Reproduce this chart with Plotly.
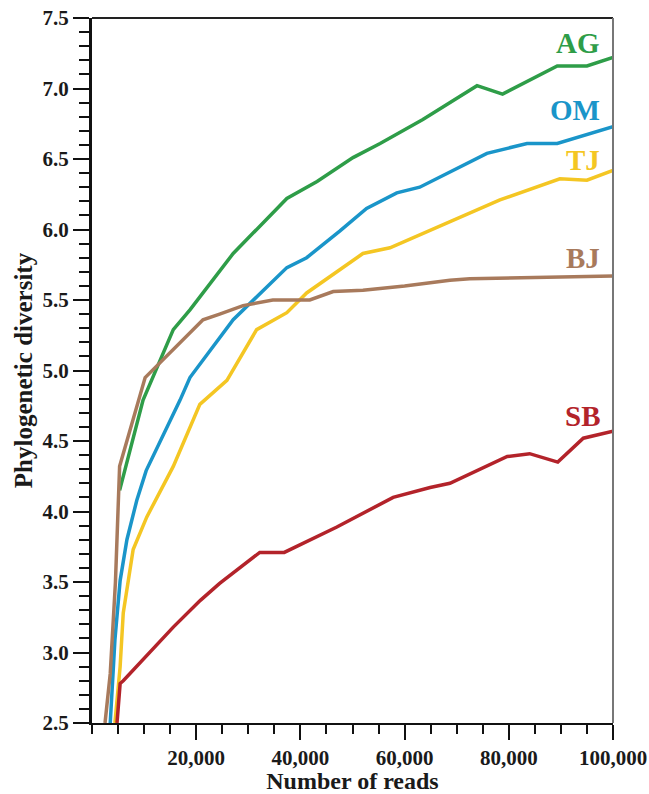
import plotly.graph_objects as go

# Data
ag_x = [5300, 9800, 15600, 18800, 27100, 37400, 43200, 50100, 55300, 63500, 73900, 78800, 89300, 95000, 100000]
ag_y = [4.15, 4.79, 5.29, 5.43, 5.83, 6.22, 6.34, 6.51, 6.61, 6.78, 7.02, 6.96, 7.16, 7.16, 7.22]

om_x = [3500, 4400, 5400, 6700, 8600, 10400, 16900, 18800, 27100, 31600, 37400, 41200, 47600, 52700, 58500, 62900, 70600, 75800, 83500, 89300, 100000]
om_y = [2.5, 3.09, 3.51, 3.80, 4.08, 4.29, 4.79, 4.95, 5.36, 5.52, 5.73, 5.80, 5.99, 6.15, 6.26, 6.30, 6.44, 6.54, 6.61, 6.61, 6.73]

tj_x = [4400, 5400, 6000, 7900, 10500, 15600, 20700, 25900, 31600, 37400, 41200, 52000, 57200, 70600, 78300, 89800, 95000, 100000]
tj_y = [2.5, 2.9, 3.28, 3.73, 3.96, 4.32, 4.76, 4.93, 5.29, 5.41, 5.55, 5.83, 5.87, 6.09, 6.21, 6.36, 6.35, 6.42]

bj_x = [2500, 3500, 4500, 5000, 5300, 10200, 18800, 21300, 24500, 29000, 34700, 41800, 46300, 52000, 60000, 68700, 72500, 86600, 100000]
bj_y = [2.5, 2.85, 3.5, 3.96, 4.32, 4.95, 5.27, 5.36, 5.40, 5.46, 5.50, 5.50, 5.56, 5.57, 5.60, 5.64, 5.65, 5.66, 5.67]

sb_x = [4800, 5400, 6000, 9800, 15600, 20800, 24500, 32200, 36900, 47000, 57800, 64900, 68700, 79700, 84000, 89400, 94300, 100000]
sb_y = [2.5, 2.78, 2.8, 2.95, 3.18, 3.37, 3.49, 3.71, 3.71, 3.89, 4.10, 4.17, 4.20, 4.39, 4.41, 4.35, 4.52, 4.57]

series_names = ["AG", "OM", "TJ", "BJ", "SB"]
series_colors = ["#2e9d48", "#1a95c9", "#f4c623", "#a87a5c", "#b3232a"]
label_y = [7.32, 6.85, 6.49, 5.80, 4.68]
label_x = 97900

x_tickvals = [20000, 40000, 60000, 80000, 100000]
x_ticktext = ["20,000", "40,000", "60,000", "80,000", "100,000"]

FONT = "Liberation Serif, Times New Roman, serif"

fig = go.Figure()
for name, xs, ys, col in zip(series_names,
                             [ag_x, om_x, tj_x, bj_x, sb_x],
                             [ag_y, om_y, tj_y, bj_y, sb_y],
                             series_colors):
    fig.add_trace(go.Scatter(x=xs, y=ys, mode="lines", name=name,
                             line=dict(color=col, width=3.5), showlegend=False))

for name, col, ly in zip(series_names, series_colors, label_y):
    fig.add_annotation(x=label_x, y=ly, text=name, showarrow=False,
                       xanchor="right", yanchor="middle",
                       font=dict(family=FONT, size=29, color=col, weight="bold"))

fig.update_layout(
    width=649, height=794,
    margin=dict(l=92, r=36, t=18, b=71),
    paper_bgcolor="white", plot_bgcolor="white",
    font=dict(family=FONT, color="#1a1a1a"),
)
fig.update_xaxes(
    range=[0, 100000], tickvals=x_tickvals, ticktext=x_ticktext, automargin=False,
    ticks="outside", ticklen=15, tickwidth=2, tickcolor="#111",
    minor=dict(dtick=5000, tick0=0, ticks="outside", ticklen=9, tickwidth=2, tickcolor="#111"),
    showline=True, linewidth=2, linecolor="#111", showgrid=False, zeroline=False,
    tickfont=dict(family=FONT, size=21, color="#1a1a1a", weight="bold"),
    title=dict(text="Number of reads", font=dict(family=FONT, size=24, color="#1a1a1a", weight="bold"), standoff=6),
)
fig.update_yaxes(
    range=[2.5, 7.5], dtick=0.5, tick0=2.5, tickformat=".1f", automargin=False,
    ticks="outside", ticklen=16, tickwidth=2, tickcolor="#111",
    minor=dict(dtick=0.1, ticks="outside", ticklen=10, tickwidth=2, tickcolor="#111"),
    showline=True, linewidth=3, linecolor="#111", showgrid=False, zeroline=False,
    tickfont=dict(family=FONT, size=21, color="#1a1a1a", weight="bold"),
    title=dict(text="Phylogenetic diversity", font=dict(family=FONT, size=25, color="#1a1a1a", weight="bold"), standoff=3),
)
# frame: top and right edges
fig.add_shape(type="line", xref="paper", yref="paper", x0=0, x1=1, y0=1, y1=1,
              line=dict(color="#222", width=2))
fig.add_shape(type="line", xref="paper", yref="paper", x0=1, x1=1, y0=0, y1=1,
              line=dict(color="#777", width=2))

fig.write_html("out.html", config={"displayModeBar": False},
               post_script="document.body.style.margin='0';document.body.style.overflow='hidden';")
